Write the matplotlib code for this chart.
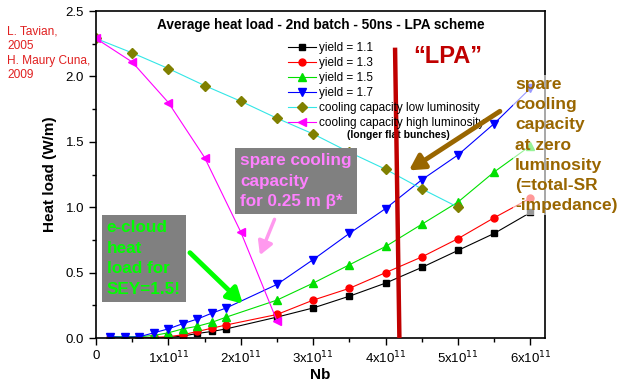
import numpy as np
import matplotlib.pyplot as plt
from matplotlib.ticker import MultipleLocator, FuncFormatter

plt.rcParams['font.family'] = ['Liberation Sans', 'DejaVu Sans']

# bunch population in units of 1e11
nb_low = [0.2, 0.4, 0.6, 0.8, 1.0, 1.2, 1.4, 1.6, 1.8, 2.5, 3.0, 3.5, 4.0, 4.5, 5.0, 5.5, 6.0]
y11 = [0.0, 0.0, 0.0, 0.0, 0.005, 0.015, 0.035, 0.05, 0.07, 0.16, 0.23, 0.32, 0.42, 0.54, 0.67, 0.80, 0.96]
y13 = [0.0, 0.0, 0.0, 0.005, 0.01, 0.025, 0.05, 0.075, 0.10, 0.18, 0.29, 0.38, 0.50, 0.62, 0.76, 0.92, 1.07]
y15 = [0.01, 0.01, 0.01, 0.02, 0.04, 0.07, 0.09, 0.12, 0.16, 0.29, 0.42, 0.56, 0.70, 0.87, 1.04, 1.27, 1.47]
y17 = [0.01, 0.005, 0.01, 0.04, 0.07, 0.11, 0.145, 0.19, 0.23, 0.41, 0.60, 0.80, 0.99, 1.21, 1.40, 1.64, 1.91]

nb_cool = [0.0, 0.5, 1.0, 1.5, 2.0, 2.5, 3.0, 3.5, 4.0, 4.5, 5.0]
cool_low = [2.29, 2.18, 2.06, 1.93, 1.81, 1.68, 1.56, 1.42, 1.29, 1.14, 1.00]

nb_high = [0.0, 0.5, 1.0, 1.5, 2.0, 2.5]
cool_high = [2.29, 2.11, 1.80, 1.38, 0.81, 0.13]

refs = ['L. Tavian,', '2005', 'H. Maury Cuna,', '2009']

fig = plt.figure(figsize=(6.18, 3.85), dpi=100)
ax = fig.add_axes([0.1553, 0.122, 0.7265, 0.8494])

ax.plot(nb_low, y11, '-s', color='black', lw=0.8, ms=4.5, label='yield = 1.1')
ax.plot(nb_low, y13, '-o', color='#ff0000', lw=0.8, ms=5, label='yield = 1.3')
ax.plot(nb_low, y15, '-^', color='#00e000', lw=0.8, ms=5.5, label='yield = 1.5')
ax.plot(nb_low, y17, '-v', color='#0000ff', lw=0.8, ms=5.5, label='yield = 1.7')
ax.plot(nb_cool, cool_low, '-D', color='#33e6e6', mfc='#808000', mec='#808000', lw=0.8, ms=5,
        label='cooling capacity low luminosity')
ax.plot(nb_high, cool_high, '-<', color='#ff00ff', lw=0.8, ms=5.5,
        label='cooling capacity high luminosity')

ax.set_xlim(0, 6.2)
ax.set_ylim(0, 2.5)
ax.xaxis.set_major_locator(MultipleLocator(1))
ax.xaxis.set_minor_locator(MultipleLocator(0.5))
ax.yaxis.set_major_locator(MultipleLocator(0.5))
ax.yaxis.set_minor_locator(MultipleLocator(0.25))
ax.xaxis.set_major_formatter(FuncFormatter(lambda v, p: '0' if v == 0 else r'%dx10$^{11}$' % v))
ax.tick_params(which='major', direction='out', length=5, width=1, labelsize=9.5)
ax.tick_params(which='minor', direction='out', length=3, width=1)
for s in ax.spines.values():
    s.set_linewidth(1.2)

ax.set_xlabel('Nb', fontsize=11, fontweight='bold', labelpad=1)
ax.set_ylabel('Heat load (W/m)', fontsize=11, fontweight='bold', labelpad=6)

ax.text(3.1, 2.395, 'Average heat load - 2nd batch - 50ns - LPA scheme',
        fontsize=9.8, fontweight='bold', ha='center', va='center')

leg = ax.legend(loc='upper left', bbox_to_anchor=(0.428, 0.906), frameon=False,
                fontsize=8.5, handlelength=2.37, handletextpad=0.25, labelspacing=0.26,
                borderpad=0, borderaxespad=0)
ax.text(4.17, 1.55, '(longer flat bunches)', fontsize=7.5, fontweight='bold',
        ha='center', va='center')

# LPA line and label
ax.plot([4.13, 4.19], [2.22, 0.0], color='#c00000', lw=3.2, solid_capstyle='butt', zorder=5)
ax.text(4.86, 2.15, '\u201cLPA\u201d', color='#c00000', fontsize=17, fontweight='bold',
        ha='center', va='center')

# boxes with comments
ax.text(1.99, 1.2, 'spare cooling\ncapacity\nfor 0.25 m \u03b2*', color='#ff80ff',
        fontsize=12.3, fontweight='bold', ha='left', va='center', linespacing=1.44,
        bbox=dict(boxstyle='square,pad=0.3', fc='#808080', ec='none'), zorder=6)
ax.annotate('', xy=(2.25, 0.614), xytext=(2.48, 0.927),
            arrowprops=dict(arrowstyle='-|>,head_length=0.8,head_width=0.45',
                            color='#ff99ee', lw=2.5), zorder=6)

ax.text(0.148, 0.608, 'e-cloud\nheat\nload for\nSEY=1.5!', color='#00ff00',
        fontsize=12.3, fontweight='bold', ha='left', va='center', linespacing=1.45,
        bbox=dict(boxstyle='square,pad=0.3', fc='#808080', ec='none'), zorder=6)
ax.annotate('', xy=(2.055, 0.247), xytext=(1.27, 0.667),
            arrowprops=dict(arrowstyle='-|>,head_length=0.9,head_width=0.5',
                            color='#00ff00', lw=3.5), zorder=6)

ax.annotate('', xy=(4.29, 1.27), xytext=(5.61, 1.745),
            arrowprops=dict(arrowstyle='-|>,head_length=0.9,head_width=0.5',
                            color='#996600', lw=3.5), zorder=6)

fig.text(515 / 618, 1 - 145 / 385,
         'spare\ncooling\ncapacity\nat zero\nluminosity\n(=total-SR\n-impedance)',
         color='#996600', fontsize=12.5, fontweight='bold', ha='left', va='center',
         linespacing=1.43, bbox=dict(boxstyle='square,pad=0.1', fc='white', ec='none', alpha=0.6),
         zorder=10)

# reference lines on the left, one text per line
for i, line in enumerate(refs):
    fig.text(7 / 618, 1 - (32 + 14.4 * i) / 385, line, color='#e02020',
             fontsize=8.6, ha='left', va='center')

plt.savefig('out.png', dpi=100)
